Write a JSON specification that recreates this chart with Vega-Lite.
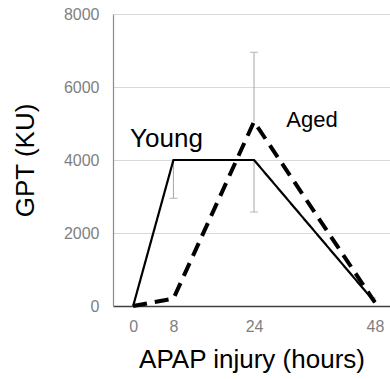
{
  "$schema": "https://vega.github.io/schema/vega-lite/v6.json",
  "autosize": {"type": "none"},
  "padding": {"left": 113, "top": 14, "right": 0, "bottom": 73},
  "width": 277,
  "height": 292,
  "background": "white",
  "config": {
    "view": {"stroke": null},
    "font": "Liberation Sans"
  },
  "datasets": {
    "lines": [
      {"group": "Young", "hours": 0, "gpt": 0},
      {"group": "Young", "hours": 8, "gpt": 4000},
      {"group": "Young", "hours": 24, "gpt": 4000},
      {"group": "Young", "hours": 48, "gpt": 100},
      {"group": "Aged", "hours": 0, "gpt": 0},
      {"group": "Aged", "hours": 8, "gpt": 200},
      {"group": "Aged", "hours": 24, "gpt": 5050},
      {"group": "Aged", "hours": 48, "gpt": 100}
    ],
    "errors": [
      {"group": "Young", "hours": 8, "low": 2950, "high": 4000},
      {"group": "Young", "hours": 24, "low": 2575, "high": 4000},
      {"group": "Aged", "hours": 24, "low": 5050, "high": 6950},
      {"group": "Aged", "hours": 48, "low": 100, "high": 250}
    ],
    "caps": [
      {"hours": 8, "v": 2950},
      {"hours": 24, "v": 2575},
      {"hours": 24, "v": 6950}
    ],
    "labels": [
      {"text": "Young", "hours": -0.6, "gpt": 4350, "size": 26},
      {"text": "Aged", "hours": 30.4, "gpt": 4900, "size": 22}
    ]
  },
  "layer": [
    {
      "mark": {"type": "rule", "color": "#7f7f7f", "strokeWidth": 1.5},
      "encoding": {"y": {"datum": 8000, "type": "quantitative", "scale": {"domain": [0, 8000]}}}
    },
    {
      "data": {"name": "errors"},
      "mark": {"type": "rule", "color": "#a6a6a6", "strokeWidth": 1},
      "encoding": {
        "x": {"field": "hours", "type": "quantitative"},
        "y": {"field": "low", "type": "quantitative"},
        "y2": {"field": "high"}
      }
    },
    {
      "data": {"name": "caps"},
      "mark": {"type": "tick", "orient": "horizontal", "color": "#a6a6a6", "size": 8, "thickness": 1.2},
      "encoding": {
        "x": {"field": "hours", "type": "quantitative"},
        "y": {"field": "v", "type": "quantitative"}
      }
    },
    {
      "data": {"name": "lines"},
      "mark": {"type": "line", "color": "black"},
      "encoding": {
        "x": {
          "field": "hours", "type": "quantitative",
          "scale": {"domain": [-4, 51], "nice": false, "zero": false},
          "axis": {
            "values": [0, 8, 24, 48],
            "title": "APAP injury (hours)",
            "titleFontSize": 26, "titleFontWeight": "normal", "titleColor": "black",
            "titlePadding": 12,
            "labelFontSize": 16, "labelColor": "#7f7f7f", "labelPadding": 12,
            "ticks": false, "grid": false,
            "domainColor": "#404040", "domainWidth": 1.5
          }
        },
        "y": {
          "field": "gpt", "type": "quantitative",
          "scale": {"domain": [0, 8000], "nice": false},
          "axis": {
            "values": [0, 2000, 4000, 6000, 8000],
            "format": "d",
            "title": "GPT (KU)",
            "titleFontSize": 26, "titleFontWeight": "normal", "titleColor": "black",
            "titlePadding": 25,
            "labelFontSize": 16, "labelColor": "#7f7f7f", "labelPadding": 14,
            "ticks": false,
            "grid": true, "gridColor": "#d9d9d9", "gridWidth": 1,
            "domainColor": "#8c8c8c", "domainWidth": 1.2
          }
        },
        "detail": {"field": "group"},
        "strokeWidth": {
          "field": "group", "type": "nominal",
          "scale": {"domain": ["Young", "Aged"], "range": [2.2, 4]},
          "legend": null
        },
        "strokeDash": {
          "field": "group", "type": "nominal",
          "scale": {"domain": ["Young", "Aged"], "range": [[1, 0], [14, 8]]},
          "legend": null
        }
      }
    },
    {
      "data": {"name": "labels"},
      "mark": {"type": "text", "align": "left", "baseline": "alphabetic", "color": "black"},
      "encoding": {
        "x": {"field": "hours", "type": "quantitative"},
        "y": {"field": "gpt", "type": "quantitative"},
        "text": {"field": "text"},
        "size": {"field": "size", "type": "quantitative", "scale": null}
      }
    }
  ]
}
